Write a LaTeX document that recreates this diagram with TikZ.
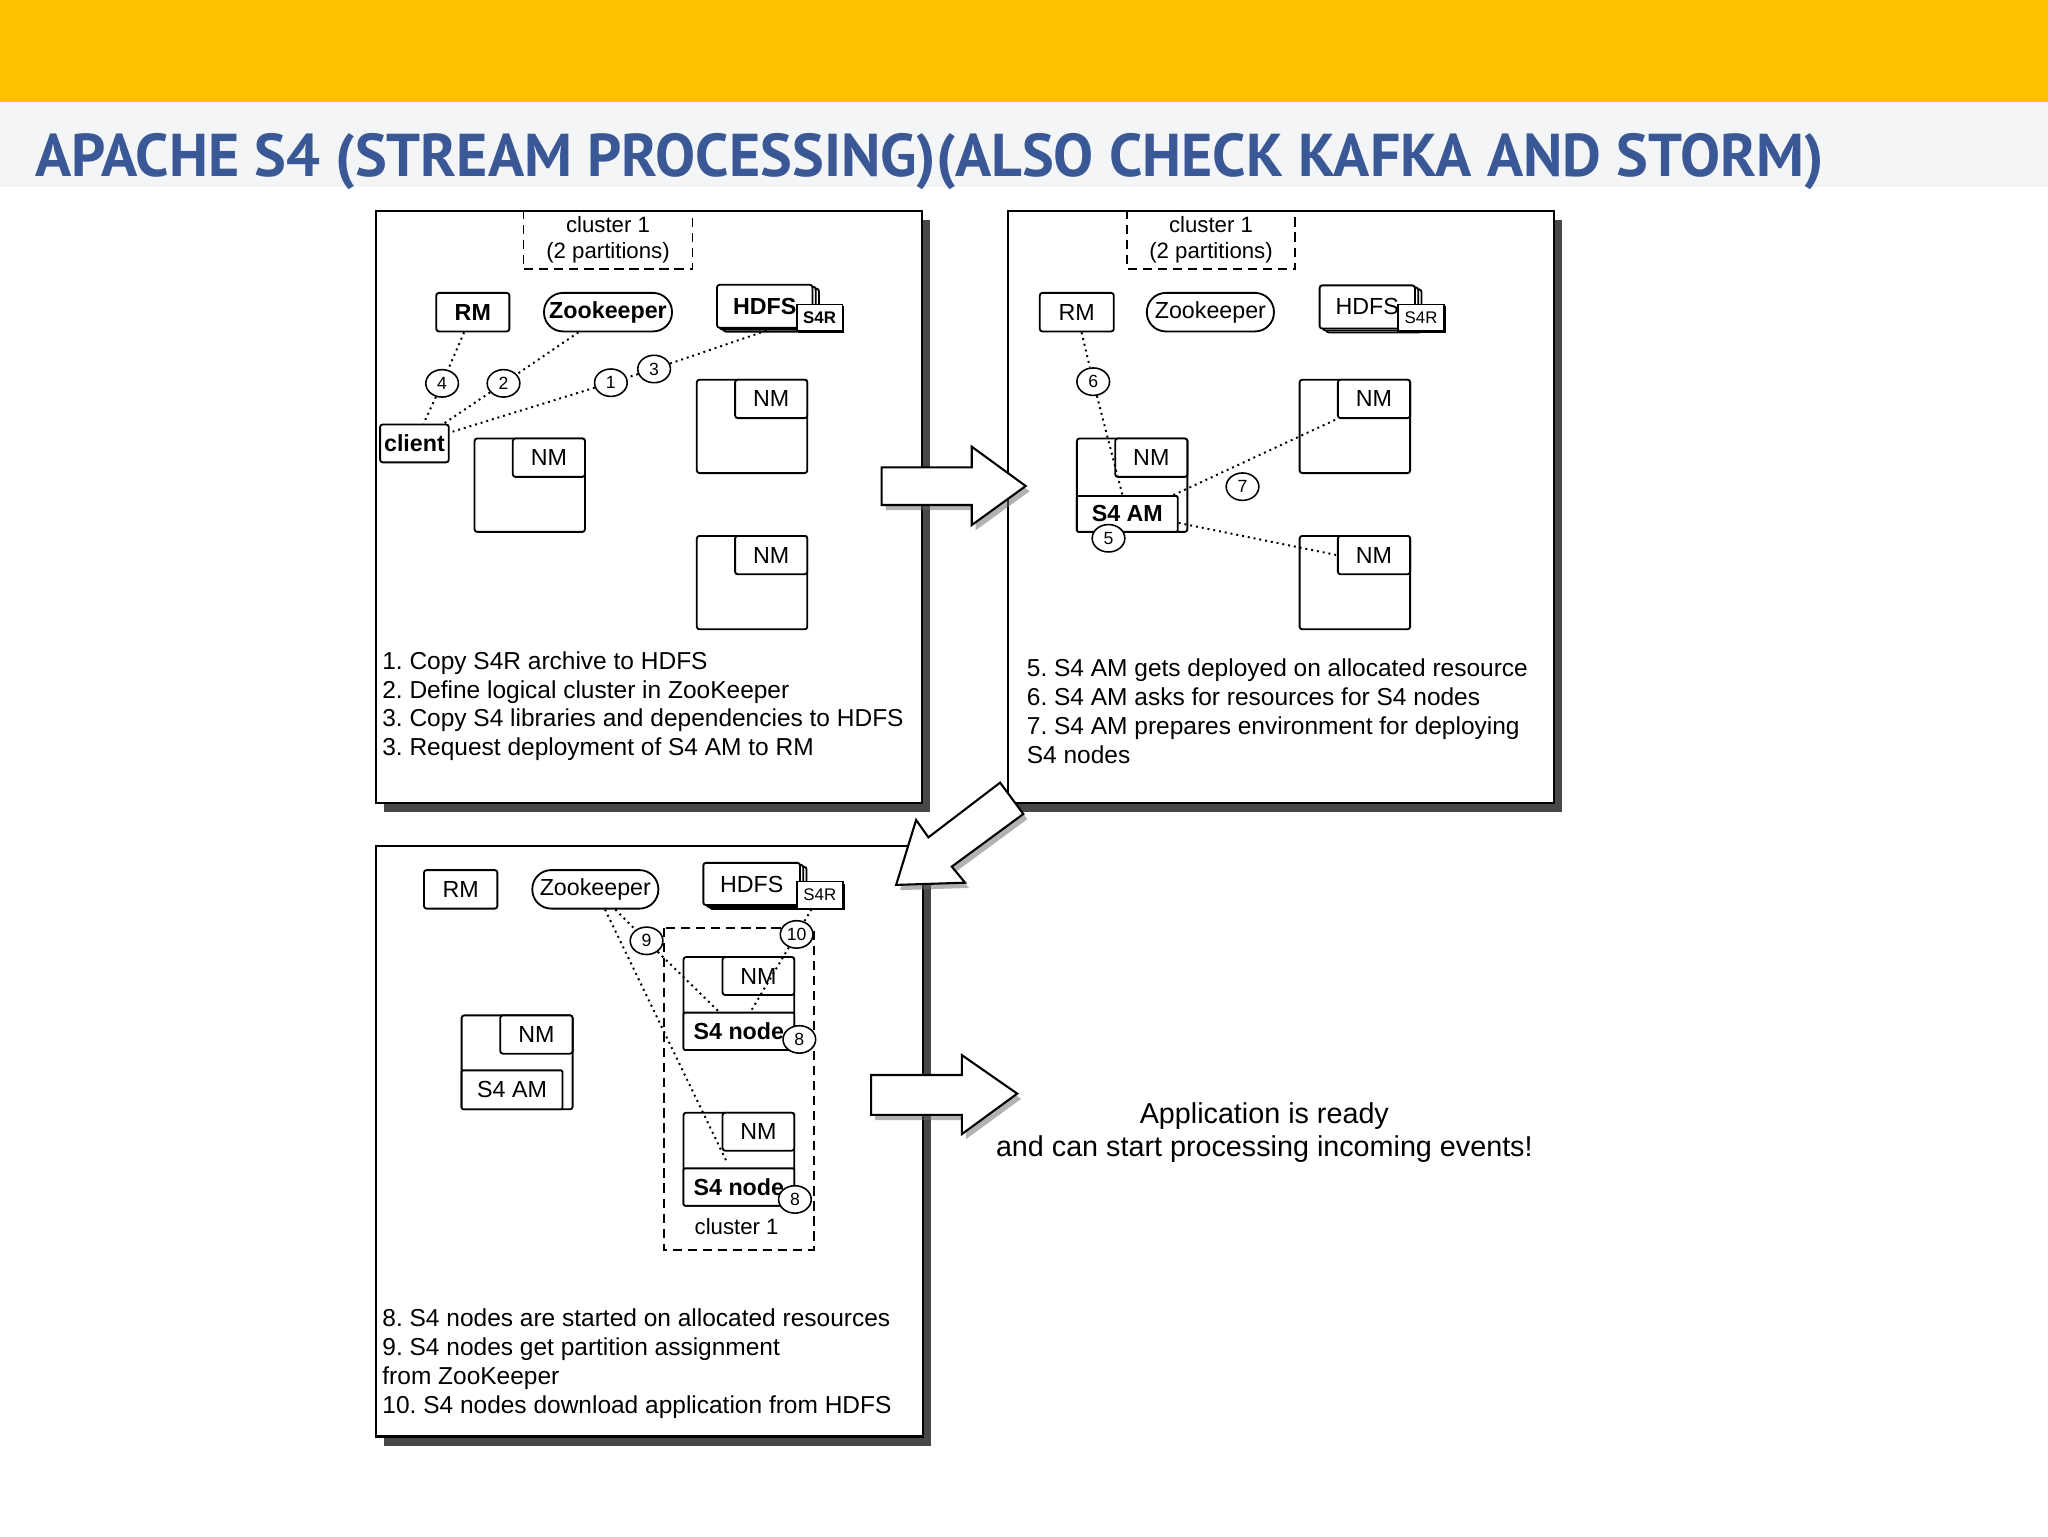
\documentclass[tikz,border=0pt]{standalone}
\usepackage{graphicx}
\usepackage{fontspec}
\setmainfont{Liberation Sans}
\newfontfamily\titlefont{PT Sans}
\usetikzlibrary{shapes.geometric,shadows}
\definecolor{slideyellow}{RGB}{255,192,0}
\definecolor{slidegray}{RGB}{244,245,247}
\definecolor{titleblue}{RGB}{58,88,150}
\newcommand{\lblfont}{\fontsize{17.8}{20}\selectfont}
\newcommand{\smallfont}{\fontsize{12.9}{14}\selectfont}
\newcommand{\stepfont}{\fontsize{18.75}{22}\selectfont}
\frenchspacing

\begin{document}
\begin{tikzpicture}[x=1pt,y=-1pt,
  panel/.style={draw, line width=1.6pt, fill=white, inner sep=0pt, anchor=north west, minimum width=418pt, minimum height=453pt, drop shadow={shadow xshift=6pt,shadow yshift=-7pt,fill=black!72,opacity=1}},
  svc/.style={draw, line width=1.4pt, fill=white, rounded corners=2pt, inner sep=0pt, minimum height=29.5pt, font=\lblfont},
  zkbox/.style={svc, rounded corners=14.5pt},
  hdfsbox/.style={svc, minimum width=73pt, minimum height=33pt, double copy shadow={shadow xshift=2.5pt,shadow yshift=-1.5pt}},
  s4rbox/.style={draw, line width=1.2pt, fill=white, inner sep=0pt, minimum width=35pt, minimum height=20.5pt, font=\smallfont, drop shadow={shadow xshift=1.5pt,shadow yshift=-1.5pt,fill=black,opacity=1}},
  nmbox/.style={draw, line width=1.4pt, fill=white, rounded corners=2pt, inner sep=0pt, anchor=north west, minimum width=84.6pt, minimum height=71.5pt},
  nmtab/.style={draw, line width=1.4pt, fill=white, rounded corners=2pt, inner sep=0pt, anchor=north east, minimum width=55.3pt, minimum height=29.4pt, font=\lblfont},
  runbox/.style={draw, line width=1.4pt, fill=white, rounded corners=1pt, inner sep=0pt, anchor=south west, minimum height=28.5pt, font=\lblfont},
  stepno/.style={ellipse, draw, line width=1.2pt, fill=white, inner sep=0pt, minimum width=25pt, minimum height=21pt, font=\fontsize{13.5}{15}\selectfont},
  link/.style={line width=1.5pt, dash pattern=on 1.5pt off 3pt},
  clusterline/.style={line width=1.4pt, dash pattern=on 7pt off 4.5pt},
  clustertxt/.style={align=center, inner sep=0pt, font=\fontsize{17}{20.5}\selectfont},
  steps/.style={anchor=north west, align=left, inner sep=0pt, font=\stepfont},
  blockarrow/.style={draw, line width=1.6pt, fill=white, line join=miter, drop shadow={shadow xshift=3pt,shadow yshift=-4pt,fill=black!60,opacity=.5}}]

  \useasboundingbox (0,0) rectangle (1568,1176);

  % slide header
  \fill[slideyellow] (0,0) rectangle (1568,78);
  \fill[slidegray] (0,78) rectangle (1568,143);
  \node[anchor=base west, inner sep=0pt, text=titleblue] (title) at (27,135.3) {\resizebox{1369pt}{33pt}{\titlefont\bfseries APACHE S4 (STREAM PROCESSING)(ALSO CHECK KAFKA AND STORM)}};

  % panel 1
  \node[panel] (p1) at (287,161) {};
  \node[clustertxt, minimum width=129pt, minimum height=45pt] (cl1) at (465.5,183.5) {cluster 1\\(2 partitions)};
  \draw[clusterline] (cl1.north west) |- (cl1.south east) -- (cl1.north east);
  \node[svc, minimum width=56pt, font=\lblfont\bfseries] (rm1) at (362,239) {RM};
  \node[zkbox, minimum width=98pt, font=\lblfont\bfseries] (zk1) at (465.5,239) {Zookeeper};
  \node[hdfsbox, font=\lblfont\bfseries] (hdfs1) at (585.5,234.5) {HDFS};
  \node[s4rbox, font=\smallfont\bfseries] (s4r1) at (627.5,243.3) {S4R};
  \node[svc, minimum width=52.6pt, minimum height=29pt, font=\lblfont\bfseries] (client1) at (317.3,339.5) {client};
  \node[nmbox] (c1a) at (362.6,335) {};
  \node[nmtab] (nm1a) at (c1a.north east) {NM};
  \node[nmbox] (c1b) at (532.8,290) {};
  \node[nmtab] (nm1b) at (c1b.north east) {NM};
  \node[nmbox] (c1c) at (532.8,409.6) {};
  \node[nmtab] (nm1c) at (c1c.north east) {NM};
  \node[stepno] (st4) at (338.5,293.5) {4};
  \node[stepno] (st2) at (385.5,293.5) {2};
  \node[stepno] (st1) at (467.7,293) {1};
  \node[stepno] (st3) at (500.8,282.5) {3};
  \draw[link] (rm1) -- (st4) -- (client1);
  \draw[link] (zk1) -- (st2) -- (client1);
  \draw[link] (hdfs1.-72) -- (st3) -- (st1) -- (client1);
  \node[steps] (txt1) at (292.5,498.8) {1. Copy S4R archive to HDFS\\2. Define logical cluster in ZooKeeper\\3. Copy S4 libraries and dependencies to HDFS\\3. Request deployment of S4 AM to RM};

  % panel 2
  \node[panel] (p2) at (771,161) {};
  \node[clustertxt, minimum width=128.5pt, minimum height=45pt] (cl2) at (927.2,183.5) {cluster 1\\(2 partitions)};
  \draw[clusterline] (cl2.north west) |- (cl2.south east) -- (cl2.north east);
  \node[svc, minimum width=56.7pt] (rm2) at (824.4,239) {RM};
  \node[zkbox, minimum width=97.3pt] (zk2) at (926.7,239) {Zookeeper};
  \node[hdfsbox] (hdfs2) at (1046.8,235) {HDFS};
  \node[s4rbox] (s4r2) at (1088,243.3) {S4R};
  \node[nmbox] (c2a) at (823.8,335) {};
  \node[nmtab] (nm2a) at (c2a.north east) {NM};
  \node[runbox, minimum width=77.2pt, minimum height=27.5pt, font=\lblfont\bfseries] (am2) at (c2a.south west) {S4 AM};
  \node[nmbox] (c2b) at (994.3,290) {};
  \node[nmtab] (nm2b) at (c2b.north east) {NM};
  \node[nmbox] (c2c) at (994.3,409.6) {};
  \node[nmtab] (nm2c) at (c2c.north east) {NM};
  \node[stepno] (st6) at (837,292.2) {6};
  \node[stepno] (st5) at (848.7,412.1) {5};
  \node[stepno] (st7) at (951.3,372.6) {7};
  \draw[link] (rm2) -- (st6) -- (am2);
  \draw[link] ([xshift=-4pt]am2.north east) -- (nm2b.south west);
  \draw[link] (am2.-10) -- (nm2c.west);
  \node[steps] (txt2) at (786,504.4) {5. S4 AM gets deployed on allocated resource\\6. S4 AM asks for resources for S4 nodes\\7. S4 AM prepares environment for deploying\\S4 nodes};

  % panel 3
  \node[panel, minimum width=419pt, minimum height=452pt] (p3) at (287,647) {};
  \node[svc, minimum width=56.2pt] (rm3) at (352.7,680.9) {RM};
  \node[zkbox, minimum width=96.5pt] (zk3) at (455.8,680.9) {Zookeeper};
  \node[hdfsbox, minimum width=74pt, minimum height=32.4pt] (hdfs3) at (575.5,676.8) {HDFS};
  \node[s4rbox] (s4r3) at (627.7,685.3) {S4R};
  \node[minimum width=114.4pt, minimum height=245.8pt, inner sep=0pt] (cl3) at (565.5,833.7) {};
  \draw[clusterline] (cl3.north west) rectangle (cl3.south east);
  \node[clustertxt] (cl3txt) at (564,939) {cluster 1};
  \node[nmbox, minimum width=84.8pt, minimum height=71.2pt] (c3a) at (522.6,732) {};
  \node[nmtab, minimum width=54.9pt, minimum height=29.1pt] (nm3a) at (c3a.north east) {NM};
  \node[runbox, minimum width=84.8pt, minimum height=28.6pt, font=\lblfont\bfseries] (sn3a) at (c3a.south west) {S4 node};
  \node[nmbox, minimum width=84.8pt, minimum height=71.2pt] (c3b) at (522.6,851.2) {};
  \node[nmtab, minimum width=54.9pt, minimum height=29.1pt] (nm3b) at (c3b.north east) {NM};
  \node[runbox, minimum width=84.8pt, minimum height=28.6pt, font=\lblfont\bfseries] (sn3b) at (c3b.south west) {S4 node};
  \node[nmbox, minimum width=85pt, minimum height=71.9pt] (c3c) at (352.7,776.7) {};
  \node[nmtab, minimum width=55.4pt, minimum height=29.3pt] (nm3c) at (c3c.north east) {NM};
  \node[runbox, minimum width=77.3pt, minimum height=29.8pt] (am3) at (c3c.south west) {S4 AM};
  \draw[link] (zk3) -- ([xshift=4pt,yshift=-8pt]nm3b.south west);
  \node[stepno] (st9) at (495,720.3) {9};
  \node[stepno] (st10) at (609.9,715.4) {10};
  \node[stepno] (st8a) at (612,795.8) {8};
  \node[stepno] (st8b) at (608.6,918.3) {8};
  \draw[link] (zk3) -- (st9) -- (sn3a);
  \draw[link] (s4r3) -- (st10) -- (sn3a);
  \node[steps] (txt3) at (292.6,1002.1) {8. S4 nodes are started on allocated resources\\9. S4 nodes get partition assignment\\from ZooKeeper\\10. S4 nodes download application from HDFS};

  % arrows between the steps
  \path[blockarrow] (675,357.8) -- (744,357.8) -- (744,342) -- (785.3,372.1) -- (744,402) -- (744,386.6) -- (675,386.6) -- cycle;
  \path[blockarrow] (765.7,599.2) -- (783.5,623.2) -- (728.7,663.5) -- (738.9,675.8) -- (686.1,677.5) -- (701.4,627.8) -- (710.8,641.1) -- cycle;
  \path[blockarrow] (667,823) -- (736.4,823) -- (736.4,807.8) -- (778.8,837.3) -- (736.4,868.3) -- (736.4,853.6) -- (667,853.6) -- cycle;

  \node[align=center, inner sep=0pt, font=\fontsize{22}{25}\selectfont] (ready) at (968,867) {Application is ready\\and can start processing incoming events!};
\end{tikzpicture}
\end{document}
